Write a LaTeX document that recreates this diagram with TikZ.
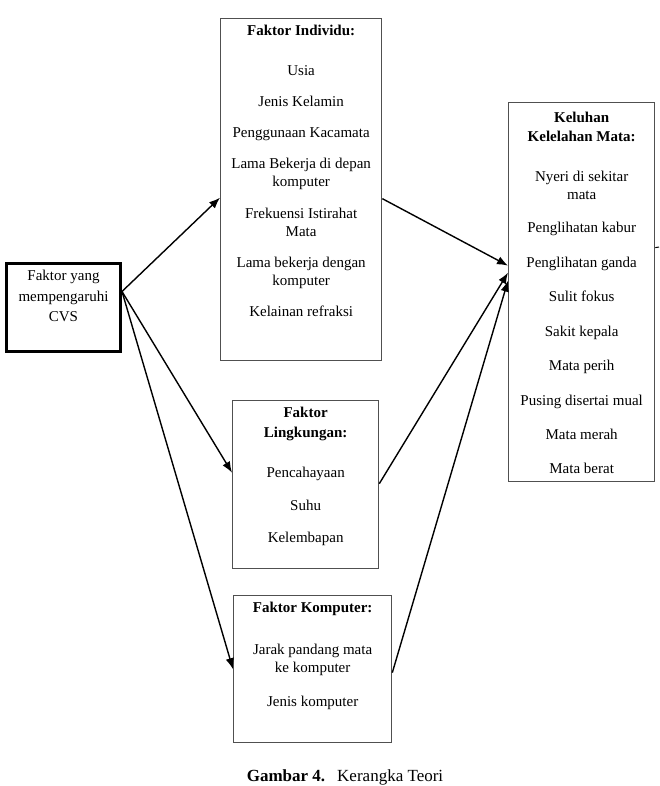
\documentclass[tikz,border=0pt]{standalone}
\usepackage{fontspec}
\setmainfont{Liberation Serif}
\usepackage{tikz}
\usetikzlibrary{arrows.meta,positioning}
\definecolor{framegray}{HTML}{505050}
\tikzset{
  box/.style={rectangle,draw=framegray,line width=1.3pt,anchor=north west,inner sep=0pt},
  mainbox/.style={rectangle,draw=black,line width=3pt,anchor=north west,inner sep=0pt},
  txt/.style={align=center,inner sep=0pt,anchor=north,font=\fontsize{15}{18}\selectfont},
  edge/.style={-{Latex[length=11pt,width=8.5pt]},line width=1.4pt,draw=black}
}
\begin{document}
\begin{tikzpicture}[x=1pt,y=-1pt]
\useasboundingbox (0,0) rectangle (659,786);
% kotak
\node[mainbox,minimum width=114pt,minimum height=88pt] (cvs) at (5,262) {};
\node[box,minimum width=161pt,minimum height=342pt] (ind) at (220,18) {};
\node[box,minimum width=146pt,minimum height=168pt] (ling) at (232,400) {};
\node[box,minimum width=158pt,minimum height=147pt] (komp) at (233,595) {};
\node[box,minimum width=146pt,minimum height=379pt] (kel) at (508,102) {};
% isi kotak
\node[txt,below=8pt of cvs.north,font=\fontsize{15}{20.5}\selectfont] (cvstxt) {Faktor yang\\mempengaruhi\\CVS};
\node[txt,below=6.5pt of ind.north] (indtxt) {\textbf{Faktor Individu:}\\[22pt]
  Usia\\[13pt]Jenis Kelamin\\[13pt]Penggunaan Kacamata\\[13pt]Lama Bekerja di depan\\komputer\\[14pt]
  Frekuensi Istirahat\\Mata\\[13pt]Lama bekerja dengan\\komputer\\[13pt]Kelainan refraksi};
\node[txt,below=7pt of ling.north] (lingtxt) {\textbf{Faktor}\\[2pt]\textbf{Lingkungan:}\\[22pt]
  Pencahayaan\\[15pt]Suhu\\[14pt]Kelembapan};
\node[txt,below=7pt of komp.north] (komptxt) {\textbf{Faktor Komputer:}\\[24pt]
  Jarak pandang mata\\ke komputer\\[16pt]Jenis komputer};
\node[txt,below=10pt of kel.north] (keltxt) {\textbf{Keluhan}\\[1pt]\textbf{Kelelahan Mata:}\\[22pt]
  Nyeri di sekitar\\mata\\[15pt]Penglihatan kabur\\[17pt]Penglihatan ganda\\[16pt]Sulit fokus\\[17pt]
  Sakit kepala\\[16pt]Mata perih\\[17pt]Pusing disertai mual\\[16pt]Mata merah\\[16pt]Mata berat};
\node[anchor=base,font=\fontsize{17}{20}\selectfont] (judul) at (345,781.5) {\textbf{Gambar 4.}\hspace{12pt}Kerangka Teori};
% panah
\draw[edge] ([yshift=16pt]cvs.east) -- ([yshift=-8pt]ind.west);
\draw[edge] ([yshift=16pt]cvs.east) -- ([yshift=12pt]ling.west);
\draw[edge] ([yshift=16pt]cvs.east) -- (komp.west);
\draw[edge] ([yshift=-9pt]ind.east) -- ([yshift=26.5pt]kel.west);
\draw[edge] ([yshift=1pt]ling.east) -- ([yshift=19.5pt]kel.west);
\draw[edge] ([yshift=-3.5pt]komp.east) -- ([yshift=11.5pt]kel.west);
\coordinate (ujung) at (659,247);
\draw[line width=1pt] ([yshift=44.5pt]kel.east) -- (ujung);
\end{tikzpicture}
\end{document}
